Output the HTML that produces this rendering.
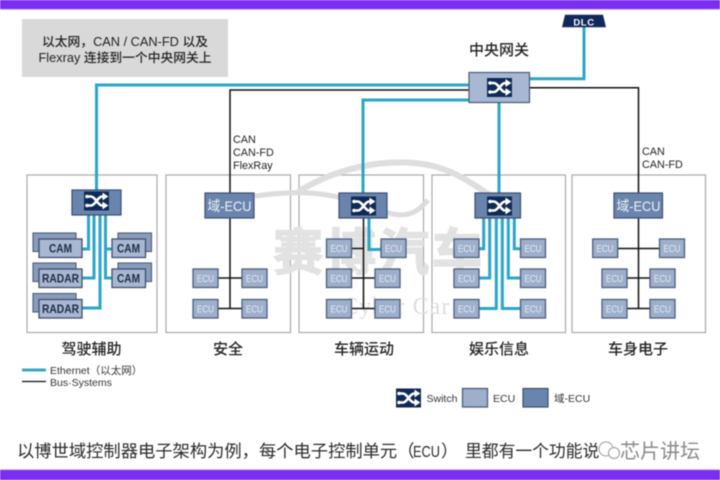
<!DOCTYPE html>
<html lang="zh">
<head>
<meta charset="utf-8">
<title>域控制器电子架构</title>
<style>
html,body{margin:0;padding:0;background:#fff;width:720px;height:480px;overflow:hidden}
svg{display:block;filter:blur(.4px)}
text{font-family:"Liberation Sans","Noto Sans CJK SC",sans-serif;fill:#222}
.panel{fill:#fff;stroke:#a9a9a9;stroke-width:1.2}
.t{fill:none;stroke:#2ba6c8;stroke-width:3}
.k{fill:none;stroke:#111;stroke-width:1.5}
.e{fill:#9dafcb;stroke:#4d5d7b;stroke-width:1.3}
.d{fill:#6a85ad;stroke:#3d4f70;stroke-width:1.2}
.b{fill:#8a9cbc;stroke:#4d5d7b;stroke-width:1.1}
.f{fill:#a9b8d2;stroke:#3f4f6e;stroke-width:1.3}
.el{font-size:10.5px;fill:#e8edf4;text-anchor:middle}
.dl{font-size:14px;fill:#eef2f8;text-anchor:middle}
.cl{font-size:12px;font-weight:bold;fill:#1d2a44;text-anchor:middle}
.ti{font-size:15px;font-weight:500;fill:#222;text-anchor:middle}
.sm{font-size:10.8px;fill:#222}
.lg{font-size:10.5px;fill:#333}
</style>
</head>
<body>
<svg width="720" height="480" viewBox="0 0 720 480" xmlns="http://www.w3.org/2000/svg">
<defs>
<g id="sw">
<rect width="25" height="19" fill="#0e2a56"/>
<path d="M3 5 H7 C11 5 14 14 18 14 H21 M3 14 H7 C11 14 14 5 18 5 H21" fill="none" stroke="#fff" stroke-width="2.600"/>
<path d="M19 2 L23.500 5 L19 8 Z M19 11 L23.500 14 L19 17 Z" fill="#fff" stroke="#fff" stroke-width="1"/>
<circle cx="3" cy="5" r="1.800" fill="#fff"/>
<circle cx="3" cy="14" r="1.800" fill="#fff"/>
</g>
</defs>

<rect x="0" y="0" width="720" height="9" fill="#7a2ff0"/>
<rect x="0" y="9" width="720" height="1" fill="#dcc2fb"/>
<rect x="0" y="470" width="720" height="10" fill="#7a2ff0"/>
<rect x="0" y="469" width="720" height="1" fill="#dcc2fb"/>

<rect x="22" y="19" width="206" height="58" fill="#d9d9d9"/>
<text x="125" y="46" text-anchor="middle" font-size="12.500" font-weight="500" textLength="166" lengthAdjust="spacingAndGlyphs">以太网，CAN / CAN-FD 以及</text>
<text x="125" y="62" text-anchor="middle" font-size="12.500" font-weight="500" textLength="173" lengthAdjust="spacingAndGlyphs">Flexray 连接到一个中央网关上</text>

<!-- panels -->
<rect class="panel" x="27" y="175" width="130" height="157.500"/>
<rect class="panel" x="166" y="175" width="124.500" height="157.500"/>
<rect class="panel" x="299" y="175" width="124.500" height="157.500"/>
<rect class="panel" x="432" y="175" width="133.500" height="157.500"/>
<rect class="panel" x="572" y="175" width="133.500" height="157.500"/>

<!-- watermark -->
<path d="M255 196 C300 190 330 192 365 205 C395 216 410 222 428 200" fill="none" stroke="#dcdcdc" stroke-width="5"/>
<path d="M298 192 C340 165 400 155 440 168 C465 176 480 190 495 198" fill="none" stroke="#dedede" stroke-width="6"/>
<text x="273" y="270" font-size="50" font-weight="bold" style="fill:#e2e2e2;stroke:#e2e2e2;stroke-width:1.500" letter-spacing="3">赛博汽车</text>
<text x="342" y="314" font-size="24" style="font-family:'Liberation Serif',serif;fill:#dedede" letter-spacing="1">Cyber Car</text>

<!-- backbone connectors -->
<path class="t" d="M96.500 190 V85 H469"/>
<path class="k" d="M230 193 V90 H469"/>
<path class="t" d="M363 193 V100 H469"/>
<path class="t" d="M499 193 V102"/>
<path class="t" d="M530 78.700 H584 V27"/>
<path class="k" d="M530 87.700 H638.500 V193"/>

<!-- DLC -->
<path d="M565 14.700 H603 L606 27.300 H562 Z" fill="#10295a"/>
<text x="584" y="25.500" text-anchor="middle" font-size="9.500" font-weight="bold" style="fill:#fff" letter-spacing=".6">DLC</text>

<!-- gateway -->
<text x="499" y="55" class="ti">中央网关</text>
<rect x="469" y="72.500" width="60.500" height="30" fill="#a9b8d2" stroke="#46587a" stroke-width="1.200"/>
<use href="#sw" x="487" y="78"/>

<!-- labels -->
<text class="sm" x="233" y="143">CAN</text>
<text class="sm" x="233" y="156">CAN-FD</text>
<text class="sm" x="233" y="169">FlexRay</text>
<text class="sm" x="642" y="155">CAN</text>
<text class="sm" x="642" y="168">CAN-FD</text>

<!-- panel 1 -->
<path class="t" d="M88.500 215 V249 H82"/>
<path class="t" d="M94 215 V278 H82"/>
<path class="t" d="M100 215 V308 H82"/>
<path class="t" d="M105.500 215 V278 H112 M105.500 249 H112"/>
<rect x="72" y="190" width="49" height="25" class="d"/>
<use href="#sw" x="84" y="191.500"/>

<rect class="b" x="33" y="233" width="43" height="18.500"/>
<rect class="f" x="39" y="239" width="43" height="18.500"/>
<text class="cl" x="60.500" y="252.500" textLength="23" lengthAdjust="spacingAndGlyphs">CAM</text>
<rect class="b" x="33" y="263" width="43" height="18.500"/>
<rect class="f" x="39" y="269" width="43" height="18.500"/>
<text class="cl" x="60.500" y="282.500" textLength="37" lengthAdjust="spacingAndGlyphs">RADAR</text>
<rect class="b" x="33" y="293.500" width="43" height="18.500"/>
<rect class="f" x="39" y="299.500" width="43" height="18.500"/>
<text class="cl" x="60.500" y="313" textLength="37" lengthAdjust="spacingAndGlyphs">RADAR</text>
<rect class="b" x="118" y="233" width="33.500" height="18.500"/>
<rect class="f" x="112" y="239" width="33.500" height="18.500"/>
<text class="cl" x="128.500" y="252.500" textLength="23" lengthAdjust="spacingAndGlyphs">CAM</text>
<rect class="b" x="118" y="263" width="33.500" height="18.500"/>
<rect class="f" x="112" y="269" width="33.500" height="18.500"/>
<text class="cl" x="128.500" y="282.500" textLength="23" lengthAdjust="spacingAndGlyphs">CAM</text>

<!-- panel 2 -->
<path class="k" d="M230 218 V308.500 M218 278 H242 M218 308.500 H242"/>
<rect class="d" x="205" y="193" width="49" height="25"/>
<text class="dl" x="229.500" y="211" textLength="44" lengthAdjust="spacingAndGlyphs">域-ECU</text>
<rect class="e" x="193" y="269" width="25" height="18.500"/><text class="el" x="205.500" y="282" textLength="17" lengthAdjust="spacingAndGlyphs">ECU</text>
<rect class="e" x="242" y="269" width="25" height="18.500"/><text class="el" x="254.500" y="282" textLength="17" lengthAdjust="spacingAndGlyphs">ECU</text>
<rect class="e" x="193" y="299.500" width="25" height="18.500"/><text class="el" x="205.500" y="312.500" textLength="17" lengthAdjust="spacingAndGlyphs">ECU</text>
<rect class="e" x="242" y="299.500" width="25" height="18.500"/><text class="el" x="254.500" y="312.500" textLength="17" lengthAdjust="spacingAndGlyphs">ECU</text>

<!-- panel 3 -->
<path class="k" d="M363.500 218 V308.500 M351 248.500 H363.500 M351 278 H375 M351 308.500 H375"/>
<path class="t" d="M369 218 V249.500 H381"/>
<rect class="d" x="339" y="193" width="48" height="25"/>
<use href="#sw" x="351" y="196.500"/>
<rect class="e" x="326.500" y="239" width="25" height="18.500"/><text class="el" x="339" y="252" textLength="17" lengthAdjust="spacingAndGlyphs">ECU</text>
<rect class="e" x="381" y="239" width="25" height="18.500"/><text class="el" x="393.500" y="252" textLength="17" lengthAdjust="spacingAndGlyphs">ECU</text>
<rect class="e" x="326.500" y="269" width="25" height="18.500"/><text class="el" x="339" y="282" textLength="17" lengthAdjust="spacingAndGlyphs">ECU</text>
<rect class="e" x="375" y="269" width="25" height="18.500"/><text class="el" x="387.500" y="282" textLength="17" lengthAdjust="spacingAndGlyphs">ECU</text>
<rect class="e" x="326.500" y="299.500" width="25" height="18.500"/><text class="el" x="339" y="312.500" textLength="17" lengthAdjust="spacingAndGlyphs">ECU</text>
<rect class="e" x="375" y="299.500" width="25" height="18.500"/><text class="el" x="387.500" y="312.500" textLength="17" lengthAdjust="spacingAndGlyphs">ECU</text>

<!-- panel 4 -->
<path class="t" d="M483.700 218 V248.700 H478"/>
<path class="t" d="M489.700 218 V278 H478"/>
<path class="t" d="M496.300 218 V308.500 H478"/>
<path class="t" d="M502.300 218 V308.500 H521"/>
<path class="t" d="M508.300 218 V278 H521"/>
<path class="t" d="M514.300 218 V248.700 H521"/>
<rect class="d" x="475" y="193" width="45.500" height="25"/>
<use href="#sw" x="487" y="196.500"/>
<rect class="e" x="454" y="239" width="25" height="18.500"/><text class="el" x="466.500" y="252" textLength="17" lengthAdjust="spacingAndGlyphs">ECU</text>
<rect class="e" x="520.500" y="239" width="25" height="18.500"/><text class="el" x="533" y="252" textLength="17" lengthAdjust="spacingAndGlyphs">ECU</text>
<rect class="e" x="454" y="269" width="25" height="18.500"/><text class="el" x="466.500" y="282" textLength="17" lengthAdjust="spacingAndGlyphs">ECU</text>
<rect class="e" x="520.500" y="269" width="25" height="18.500"/><text class="el" x="533" y="282" textLength="17" lengthAdjust="spacingAndGlyphs">ECU</text>
<rect class="e" x="454" y="299.500" width="25" height="18.500"/><text class="el" x="466.500" y="312.500" textLength="17" lengthAdjust="spacingAndGlyphs">ECU</text>
<rect class="e" x="520.500" y="299.500" width="25" height="18.500"/><text class="el" x="533" y="312.500" textLength="17" lengthAdjust="spacingAndGlyphs">ECU</text>

<!-- panel 5 -->
<path class="k" d="M638.500 218 V308.500 M617 248.500 H660 M626 278 H651 M626 308.500 H651"/>
<rect class="d" x="614" y="193" width="48.500" height="25"/>
<text class="dl" x="638.500" y="211" textLength="44" lengthAdjust="spacingAndGlyphs">域-ECU</text>
<rect class="e" x="592.700" y="239" width="25" height="18.500"/><text class="el" x="605" y="252" textLength="17" lengthAdjust="spacingAndGlyphs">ECU</text>
<rect class="e" x="659.500" y="239" width="25" height="18.500"/><text class="el" x="672" y="252" textLength="17" lengthAdjust="spacingAndGlyphs">ECU</text>
<rect class="e" x="602" y="269" width="25" height="18.500"/><text class="el" x="614.500" y="282" textLength="17" lengthAdjust="spacingAndGlyphs">ECU</text>
<rect class="e" x="650" y="269" width="25" height="18.500"/><text class="el" x="662.500" y="282" textLength="17" lengthAdjust="spacingAndGlyphs">ECU</text>
<rect class="e" x="602" y="299.500" width="25" height="18.500"/><text class="el" x="614.500" y="312.500" textLength="17" lengthAdjust="spacingAndGlyphs">ECU</text>
<rect class="e" x="650" y="299.500" width="25" height="18.500"/><text class="el" x="662.500" y="312.500" textLength="17" lengthAdjust="spacingAndGlyphs">ECU</text>

<!-- titles -->
<text class="ti" x="91.500" y="354">驾驶辅助</text>
<text class="ti" x="228" y="354">安全</text>
<text class="ti" x="364" y="354">车辆运动</text>
<text class="ti" x="499" y="354">娱乐信息</text>
<text class="ti" x="638" y="354">车身电子</text>

<!-- legend -->
<path d="M22 370 H46" stroke="#3aa7bf" stroke-width="3" fill="none"/>
<path d="M22 381.500 H46" stroke="#111" stroke-width="1.300" fill="none"/>
<text class="lg" x="50" y="374">Ethernet（以太网）</text>
<text class="lg" x="50" y="386">Bus·Systems</text>

<use href="#sw" x="396" y="388.500"/>
<text class="lg" x="426.500" y="402">Switch</text>
<rect class="e" x="462.500" y="388.500" width="25" height="18.500"/>
<text class="lg" x="493" y="402">ECU</text>
<rect class="d" x="523" y="388.500" width="25" height="18.500"/>
<text class="lg" x="554" y="402">域-ECU</text>

<!-- caption -->
<text x="17" y="457" font-size="17.300" style="fill:#2a2a2a">以博世域控制器电子架构为例，每个电子控制单元（</text>
<text x="413" y="457" font-size="16" textLength="27" lengthAdjust="spacingAndGlyphs" style="fill:#2a2a2a">ECU</text>
<text x="441" y="457" font-size="17" style="fill:#2a2a2a">）</text>
<text x="465" y="457" font-size="16.800" style="fill:#2a2a2a">里都有一个功能说</text>
<circle cx="606" cy="449" r="7" fill="#fff" stroke="#999" stroke-width="1"/>
<circle cx="614" cy="453" r="5.500" fill="#fff" stroke="#999" stroke-width="1"/>
<text x="620" y="458" font-size="20" style="fill:#8a8a8a;stroke:#fff;stroke-width:.7;paint-order:stroke">芯片讲坛</text>
</svg>
</body>
</html>
